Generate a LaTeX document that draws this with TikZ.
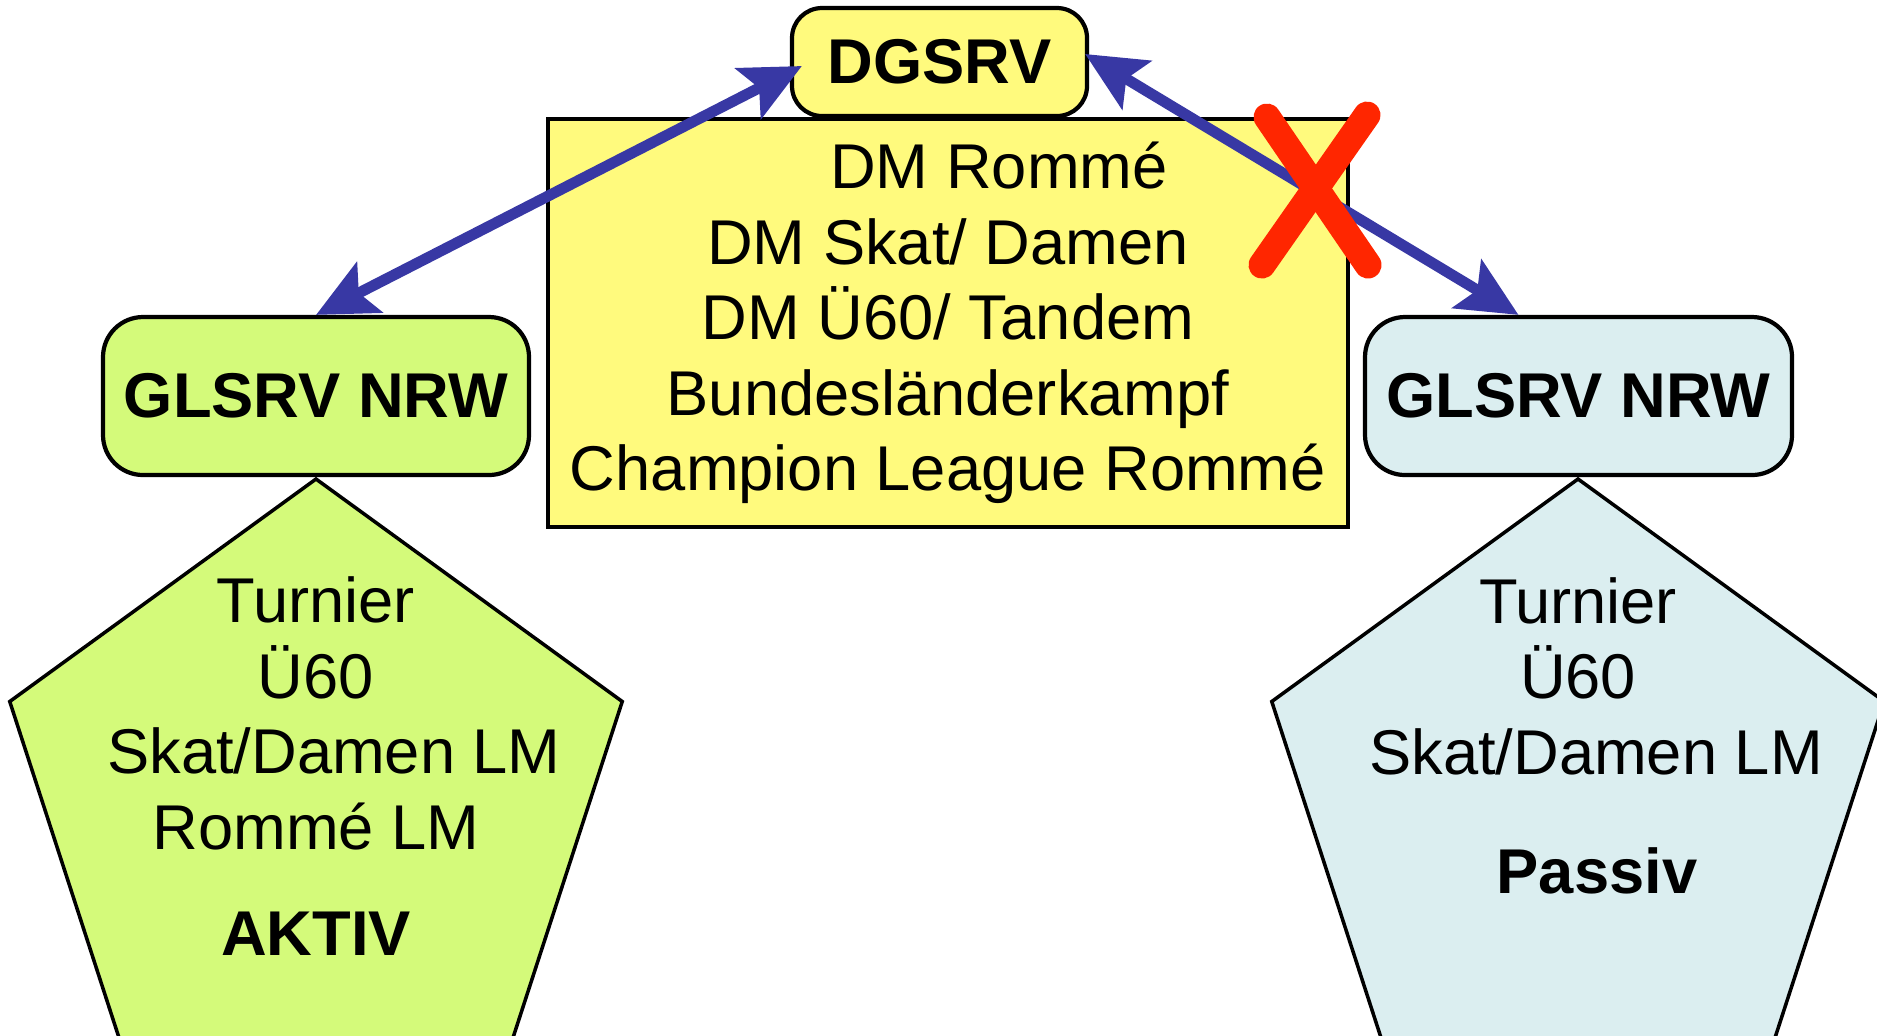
\documentclass[tikz,border=0pt]{standalone}
\usepackage{fontspec}
\setmainfont{Liberation Sans}
\usepackage{tikz}
\usetikzlibrary{positioning}
\usetikzlibrary{arrows.meta}
\usetikzlibrary{shapes.geometric}

\definecolor{boxyellow}{RGB}{255,250,125}
\definecolor{boxgreen}{RGB}{212,250,122}
\definecolor{boxblue}{RGB}{219,238,240}
\definecolor{arrowblue}{RGB}{56,56,164}
\definecolor{crossred}{RGB}{255,38,0}

\begin{document}
\begin{tikzpicture}[
    font=\fontsize{18}{21.5}\selectfont,
    verband/.style={rectangle, draw, line width=1.2pt, rounded corners=0.4cm, align=center, font=\fontsize{18}{21.5}\selectfont\bfseries},
    pent/.style={regular polygon, regular polygon sides=5, draw, line width=1pt, inner sep=0pt, minimum size=6.44cm},
    link/.style={draw=arrowblue, line width=3.1pt, {Stealth[length=6mm,width=5.6mm,inset=1.2mm]}-{Stealth[length=6mm,width=5.6mm,inset=1.2mm]}},
    cross/.style={draw=crossred, line width=0.27cm, line cap=round}
]
\useasboundingbox (0,0) rectangle (18.77,-10.35);

% Pentagons (cut off at the bottom of the page)
\node[pent, fill=boxgreen] (lpent) at (3.16,-8.01) {};
\node[pent, fill=boxblue] (rpent) at (15.78,-8.01) {};
\node[align=center] (ltext) at (3.16,-7.66) {Turnier\\Ü60\\\hspace*{0.36cm}Skat/Damen LM\\Rommé LM\\[0.3cm]\textbf{AKTIV}};
\node[align=center] (rtext) at (15.78,-7.36) {Turnier\\Ü60\\\hspace*{0.36cm}Skat/Damen LM\\[0.44cm]\hspace*{0.38cm}\textbf{Passiv}};

% Boxes
\node[draw, line width=1.2pt, fill=boxyellow, minimum width=8cm, minimum height=4.08cm, align=center] (dm) at (9.48,-3.23) {\hspace*{1.02cm}DM Rommé\\DM Skat/ Damen\\DM Ü60/ Tandem\\Bundesländerkampf\\Champion League Rommé};
\node[verband, fill=boxyellow, rounded corners=0.3cm, minimum width=2.95cm, minimum height=1.08cm] (dg) at (9.395,-0.62) {DGSRV};
\node[verband, fill=boxgreen, minimum width=4.26cm, minimum height=1.58cm] (lglsrv) at (3.16,-3.96) {GLSRV NRW};
\node[verband, fill=boxblue, minimum width=4.27cm, minimum height=1.58cm] (rglsrv) at (15.785,-3.96) {GLSRV NRW};

% Arrows
\draw[link] (lglsrv.north) -- ([xshift=0.12cm,yshift=-0.04cm]dg.west);
\draw[link] ([xshift=-0.04cm,yshift=0.08cm]dg.east) -- ([xshift=-0.6cm]rglsrv.north);

% the red cross
\draw[cross] (12.67,-1.17) -- (13.68,-2.65);
\draw[cross] (13.67,-1.15) -- (12.62,-2.65);
\end{tikzpicture}
\end{document}
